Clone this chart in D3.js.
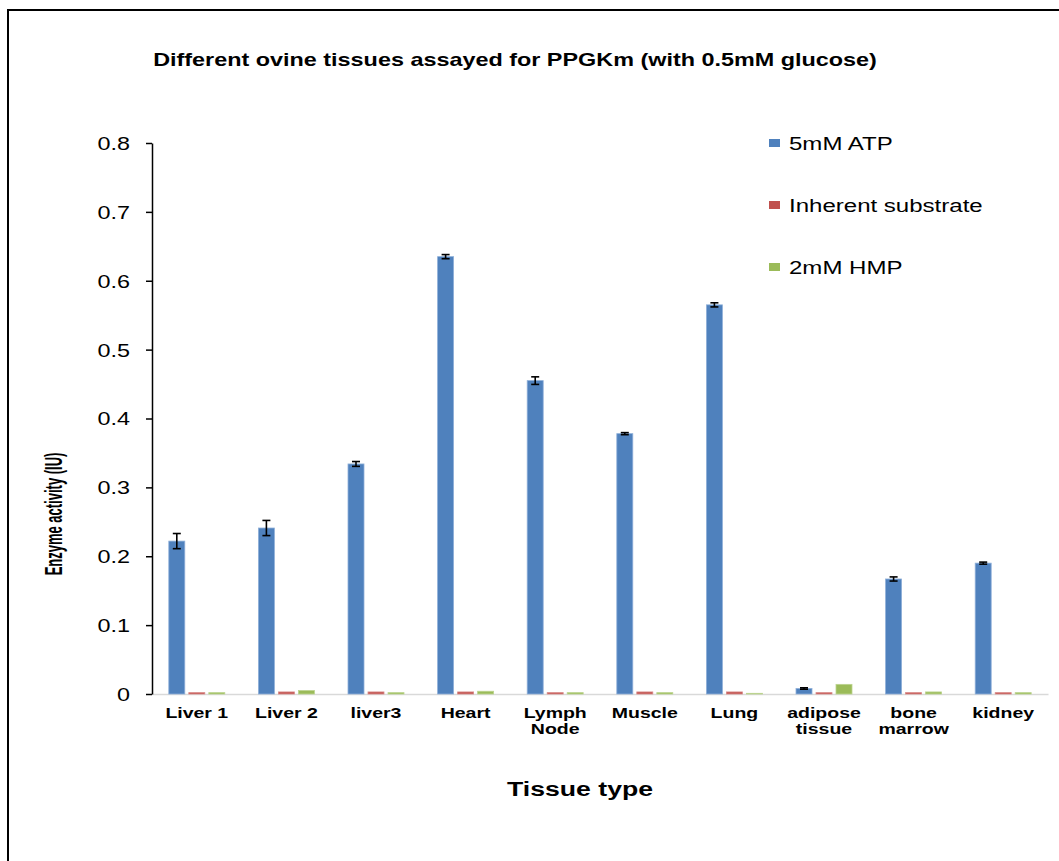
<!DOCTYPE html>
<html>
<head>
<meta charset="utf-8">
<script src="https://cdn.jsdelivr.net/npm/d3@7"></script>
<style>
  body { margin: 0; background: #fff; }
  text { font-family: "Liberation Sans", Arial, sans-serif; fill: #000; }
</style>
</head>
<body>
<div id="chart"></div>
<script>
// data
let tissues = ["Liver 1", "Liver 2", "liver3", "Heart", "Lymph\nNode", "Muscle", "Lung", "adipose\ntissue", "bone\nmarrow", "kidney"];
let series = ["5mM ATP", "Inherent substrate", "2mM HMP"];
let atp = [0.222, 0.241, 0.334, 0.635, 0.455, 0.378, 0.565, 0.008, 0.167, 0.190];
let atpErr = [0.011, 0.011, 0.0035, 0.003, 0.0055, 0.0015, 0.003, 0.001, 0.003, 0.0015];
let inherent = [0.002, 0.003, 0.003, 0.003, 0.002, 0.003, 0.003, 0.002, 0.002, 0.002];
let hmp = [0.002, 0.005, 0.002, 0.004, 0.002, 0.002, 0.001, 0.014, 0.003, 0.002];
let yTicks = [0, 0.1, 0.2, 0.3, 0.4, 0.5, 0.6, 0.7, 0.8];
let colors = ["#4F81BD", "#C0504D", "#9BBB59"];
let edges = ["#8fb0d9", "#d98c8a", "#bcd48f"];

const width = 1059, height = 861;
const SX = 1.3; // the original picture is stretched sideways

let svg = d3.select("#chart").append("svg")
    .attr("width", width)
    .attr("height", height);

// outer frame (runs off right and bottom)
svg.append("path")
    .attr("d", `M8,${height + 5} L8,10 L${width + 5},10`)
    .attr("fill", "none")
    .attr("stroke", "#000")
    .attr("stroke-width", 2);

let x0 = d3.scaleBand()
    .domain(d3.range(tissues.length))
    .range([152, 1048])
    .paddingInner(0.375)
    .paddingOuter(0.1875);

let x1 = d3.scaleBand()
    .domain(d3.range(series.length))
    .range([0, x0.bandwidth()])
    .paddingInner(0.2);

let y = d3.scaleLinear().domain([0, 0.8]).range([694, 143]);

function stretched(g, x, yy) {
    return g.append("text").attr("transform", `translate(${x},${yy}) scale(${SX},1)`);
}

// title
stretched(svg, 515, 66)
    .style("text-anchor", "middle")
    .style("font-size", "18px")
    .style("font-weight", "bold")
    .text("Different ovine tissues assayed for PPGKm (with 0.5mM glucose)");

// x axis
let xAxis = svg.append("g")
    .attr("transform", "translate(0,694)")
    .call(d3.axisBottom(x0).tickSize(0).tickSizeOuter(0).tickFormat(""));
xAxis.select(".domain").attr("stroke", "#d9d9d9").attr("stroke-width", 1.5);
xAxis.selectAll(".tick text").remove();
xAxis.selectAll(".tick").each(function(i) {
    let t = d3.select(this).append("text")
        .attr("transform", `translate(0,24) scale(${SX},1)`)
        .style("text-anchor", "middle")
        .style("font-size", "15px")
        .style("font-weight", "bold");
    tissues[i].split("\n").forEach(function(line, k) {
        t.append("tspan").attr("x", 0).attr("y", k * 16).text(line);
    });
});

// y axis
let yAxis = svg.append("g")
    .attr("transform", "translate(152,0)")
    .call(d3.axisLeft(y).tickValues(yTicks).tickSize(6).tickSizeOuter(0)
        .tickFormat(d => d === 0 ? "0" : d.toFixed(1)));
yAxis.select(".domain").attr("stroke", "#000").attr("stroke-width", 1.5);
yAxis.selectAll(".tick line").attr("stroke", "#000").attr("stroke-width", 1.5);
yAxis.selectAll(".tick text")
    .attr("x", -22 / SX)
    .attr("dy", "0.36em")
    .attr("transform", `scale(${SX},1)`)
    .style("font-size", "18px")
    .style("font-family", "'Liberation Sans', Arial, sans-serif")
    .attr("fill", "#000");

// axis titles
svg.append("text")
    .attr("transform", "translate(62,514) scale(1.9,1) rotate(-90)")
    .style("text-anchor", "middle")
    .style("font-size", "13px")
    .style("font-weight", "bold")
    .text("Enzyme activity (IU)");

stretched(svg, 580, 796)
    .style("text-anchor", "middle")
    .style("font-size", "20.5px")
    .style("font-weight", "bold")
    .text("Tissue type");

// bars
let values = [atp, inherent, hmp];
let groups = svg.append("g").selectAll("g")
    .data(tissues.map((t, i) => i))
    .enter().append("g")
    .attr("transform", i => `translate(${x0(i)},0)`);

groups.selectAll("rect")
    .data(i => values.map((v, s) => ({ s: s, v: v[i] })))
    .enter().append("rect")
    .attr("x", d => x1(d.s))
    .attr("y", d => y(d.v))
    .attr("width", x1.bandwidth())
    .attr("height", d => y(0) - y(d.v))
    .attr("fill", d => colors[d.s])
    .attr("stroke", d => edges[d.s])
    .attr("stroke-width", 0.8);

// error bars on the ATP series
let err = groups.append("g")
    .attr("stroke", "#000")
    .attr("stroke-width", 1.6);
let cx = x1(0) + x1.bandwidth() / 2;
err.append("line")
    .attr("x1", cx).attr("x2", cx)
    .attr("y1", i => y(atp[i] + atpErr[i]))
    .attr("y2", i => y(atp[i] - atpErr[i]));
err.append("line")
    .attr("x1", cx - 4).attr("x2", cx + 4)
    .attr("y1", i => y(atp[i] + atpErr[i]))
    .attr("y2", i => y(atp[i] + atpErr[i]));
err.append("line")
    .attr("x1", cx - 4).attr("x2", cx + 4)
    .attr("y1", i => y(atp[i] - atpErr[i]))
    .attr("y2", i => y(atp[i] - atpErr[i]));

// legend
let legend = svg.append("g").selectAll("g")
    .data(series)
    .enter().append("g")
    .attr("transform", (d, i) => `translate(769,${143 + i * 62})`);
legend.append("rect")
    .attr("x", 0).attr("y", -4)
    .attr("width", 11).attr("height", 8)
    .attr("fill", (d, i) => colors[i]);
legend.append("text")
    .attr("transform", `translate(20,6.5) scale(${SX},1)`)
    .style("font-size", "18.5px")
    .text(d => d);
</script>
</body>
</html>
